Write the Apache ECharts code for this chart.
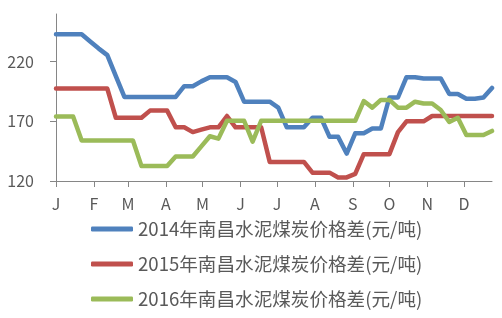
<!DOCTYPE html>
<html>
<head>
<meta charset="utf-8">
<script src="https://cdn.jsdelivr.net/npm/echarts@6/dist/echarts.min.js"></script>
<style>
html,body{margin:0;padding:0;background:#fff;}
#chart{width:502px;height:318px;}
</style>
</head>
<body>
<div id="chart"></div>
<script>
// Weekly values (week 0 .. 51)
const series2014 = [243,243,243,243,237,231,225.5,208,190.5,190.5,190.5,190.5,190.5,190.5,190.5,199.5,199.5,203.5,207,207,207,203,186.5,186.5,186.5,186.5,181.5,165,165,165,173,173,157,157,143,160,160,164,164,190,190,207,207,206,206,206,193,193,189,189,190,198];
const series2015 = [197.5,197.5,197.5,197.5,197.5,197.5,197.5,173,173,173,173,179,179,179,165,165,161,163,165,165,174.5,165,165,165,165,136,136,136,136,136,127,127,127,123,123,126,142.5,142.5,142.5,142.5,161,170,170,170,174.5,174.5,174.5,174.5,174.5,174.5,174.5,174.5];
const series2016 = [174,174,174,154,154,154,154,154,154,154,132.5,132.5,132.5,132.5,140.5,140.5,140.5,149,157.5,155.5,170.5,170.5,170.5,153,170.5,170.5,170.5,170.5,170.5,170.5,170.5,170.5,170.5,170.5,170.5,170.5,187,181.5,188,188,181.5,181.5,186.5,185,185,179.5,169.5,173,158.5,158.5,158.5,162];
const seriesNames = ['2014年南昌水泥煤炭价格差(元/吨)','2015年南昌水泥煤炭价格差(元/吨)','2016年南昌水泥煤炭价格差(元/吨)'];
const monthStartDays = [0,31,59,90,120,151,181,212,243,273,304,334];
const monthLabels = ['J','F','M','A','M','J','J','A','S','O','N','D'];
const yTicks = [120,170,220];

const colors = ['#4F81BD','#C0504D','#9BBB59'];
const toPoints = arr => arr.map((v, i) => [i * 7, v]);

const chart = echarts.init(document.getElementById('chart'), null, {renderer:'canvas'});
const axisColor = '#868686';
const textColor = '#595959';
const fontFam = '"Noto Sans CJK SC","Noto Sans",sans-serif';

chart.setOption({
  animation: false,
  color: colors,
  grid: {left: 56, right: 10, top: 14, bottom: 137, containLabel: false},
  xAxis: {
    type: 'value',
    min: 0,
    max: (series2014.length - 1) * 7,
    splitLine: {show: false},
    axisLine: {show: true, lineStyle: {color: axisColor, width: 1}},
    axisTick: {show: true, customValues: monthStartDays, length: 6, lineStyle: {color: axisColor}},
    axisLabel: {
      customValues: monthStartDays,
      formatter: v => monthLabels[monthStartDays.indexOf(v)] || '',
      color: textColor, fontSize: 16, fontFamily: fontFam, margin: 15
    }
  },
  yAxis: {
    type: 'value',
    min: 120,
    max: 260,
    splitLine: {show: false},
    axisLine: {show: true, lineStyle: {color: axisColor, width: 1}},
    axisTick: {show: true, customValues: yTicks, length: 6, lineStyle: {color: axisColor}},
    axisLabel: {customValues: yTicks, color: textColor, fontSize: 16, fontFamily: fontFam, margin: 22}
  },
  legend: {
    orient: 'vertical',
    left: 91,
    top: 219,
    padding: 0,
    itemWidth: 42,
    itemHeight: 5,
    itemGap: 15,
    icon: 'roundRect',
    textStyle: {color: textColor, fontSize: 18.6, fontFamily: fontFam, lineHeight: 20},
    data: seriesNames
  },
  series: [series2014, series2015, series2016].map((d, k) => ({
    name: seriesNames[k],
    type: 'line',
    data: toPoints(d),
    symbol: 'none',
    lineStyle: {width: 4.5, color: colors[k], join: 'round', cap: 'round'},
    itemStyle: {color: colors[k]}
  }))
});
</script>
</body>
</html>
